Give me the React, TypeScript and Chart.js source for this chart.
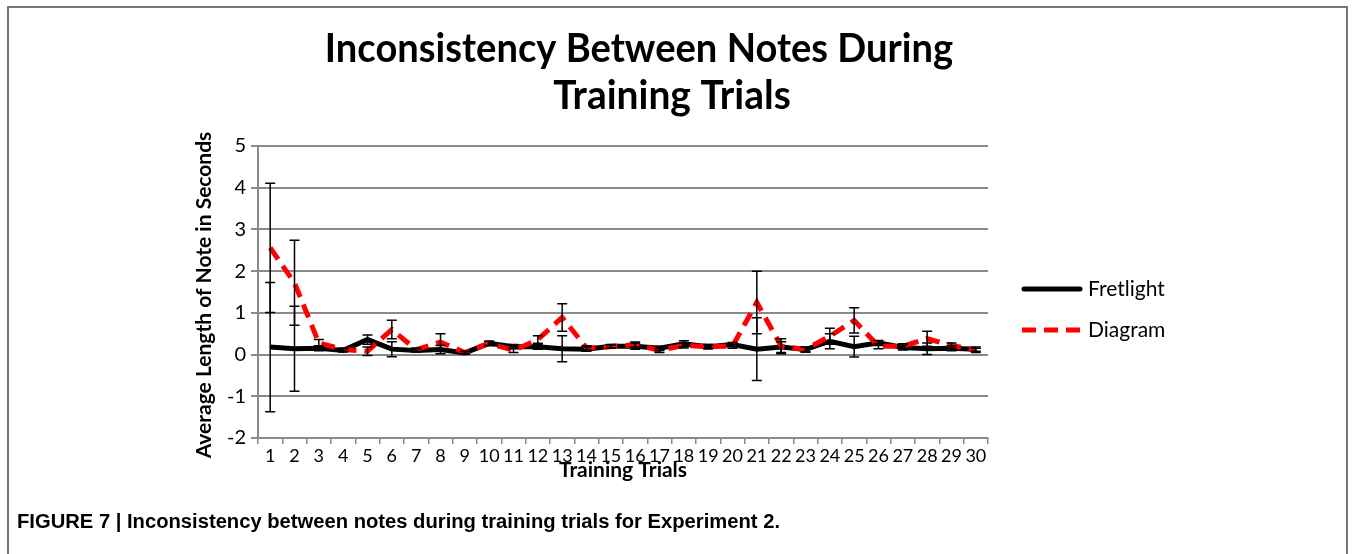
import React, { useEffect, useRef } from "react";
import { Chart, registerables } from "chart.js";

Chart.register(...registerables);

const trials: string[] = Array.from({ length: 30 }, (_, i) => String(i + 1));

const fretlightMean: number[] = [
  0.18, 0.14, 0.15, 0.1, 0.36, 0.13, 0.1, 0.12, 0.04, 0.27,
  0.19, 0.19, 0.14, 0.13, 0.2, 0.2, 0.15, 0.26, 0.19, 0.24,
  0.13, 0.18, 0.12, 0.32, 0.19, 0.28, 0.17, 0.14, 0.15, 0.13,
];
const fretlightErr: number[] = [
  1.55, 1.02, 0.06, 0.04, 0.11, 0.18, 0.04, 0.1, 0.03, 0.05,
  0.05, 0.06, 0.31, 0.05, 0.04, 0.07, 0.05, 0.07, 0.05, 0.05,
  0.75, 0.13, 0.06, 0.18, 0.25, 0.06, 0.06, 0.14, 0.06, 0.05,
];
const diagramMean: number[] = [
  2.56, 1.72, 0.28, 0.12, 0.08, 0.6, 0.12, 0.3, 0.05, 0.27,
  0.1, 0.36, 0.89, 0.16, 0.19, 0.24, 0.1, 0.22, 0.19, 0.2,
  1.25, 0.2, 0.12, 0.44, 0.82, 0.2, 0.2, 0.38, 0.22, 0.1,
];
const diagramErr: number[] = [
  1.55, 1.02, 0.08, 0.04, 0.1, 0.22, 0.04, 0.2, 0.03, 0.05,
  0.05, 0.09, 0.33, 0.05, 0.04, 0.06, 0.05, 0.06, 0.05, 0.05,
  0.75, 0.18, 0.06, 0.19, 0.3, 0.06, 0.06, 0.18, 0.06, 0.05,
];

const titleLines: string[] = ["Inconsistency Between Notes During", "Training Trials"];
const yAxisTitle = "Average Length of Note in Seconds";
const xAxisTitle = "Training Trials";
const seriesNames: string[] = ["Fretlight", "Diagram"];
const caption = "FIGURE 7 | Inconsistency between notes during training trials for Experiment 2.";

const W = 1355;
const H = 554;
const FONT = "Lato, 'Open Sans', 'DejaVu Sans', sans-serif";
const DASH = [14, 8];

function squashText(ctx: any, text: string, x: number, y: number, sx: number) {
  ctx.save();
  ctx.translate(x, y);
  ctx.scale(sx, 1);
  ctx.fillText(text, 0, 0);
  ctx.restore();
}

const decorPlugin = {
  id: "decor",
  beforeDraw(chart: any) {
    const ctx = chart.ctx;
    ctx.save();
    ctx.fillStyle = "#ffffff";
    ctx.fillRect(0, 0, W, H);
    ctx.restore();
  },
  afterDatasetsDraw(chart: any) {
    const ctx = chart.ctx;
    const xs = chart.scales.x;
    const ys = chart.scales.y;
    ctx.save();
    ctx.strokeStyle = "#000000";
    ctx.lineWidth = 1.5;
    const bars = [
      [fretlightMean, fretlightErr],
      [diagramMean, diagramErr],
    ];
    bars.forEach(([m, e]) => {
      m.forEach((v, i) => {
        const x = xs.getPixelForValue(i);
        const top = ys.getPixelForValue(v + e[i]);
        const bot = ys.getPixelForValue(v - e[i]);
        ctx.beginPath();
        ctx.moveTo(x, top);
        ctx.lineTo(x, bot);
        ctx.moveTo(x - 5, top);
        ctx.lineTo(x + 5, top);
        ctx.moveTo(x - 5, bot);
        ctx.lineTo(x + 5, bot);
        ctx.stroke();
      });
    });
    ctx.restore();
  },
  afterDraw(chart: any) {
    const ctx = chart.ctx;
    const area = chart.chartArea;
    ctx.save();
    // frame
    ctx.strokeStyle = "#777777";
    ctx.lineWidth = 2;
    ctx.beginPath();
    ctx.moveTo(8, H + 5);
    ctx.lineTo(8, 7);
    ctx.lineTo(1347, 7);
    ctx.lineTo(1347, H + 5);
    ctx.stroke();

    // title
    ctx.fillStyle = "#000000";
    ctx.textAlign = "center";
    ctx.textBaseline = "alphabetic";
    ctx.font = `bold 41px ${FONT}`;
    squashText(ctx, titleLines[0], 639, 62, 0.93);
    squashText(ctx, titleLines[1], 672, 109, 0.95);

    // y axis title
    ctx.save();
    ctx.translate(204, 295);
    ctx.rotate(-Math.PI / 2);
    ctx.font = `bold 21px ${FONT}`;
    ctx.textBaseline = "middle";
    ctx.fillText(yAxisTitle, 0, 0);
    ctx.restore();

    // x axis title
    ctx.font = `bold 21px ${FONT}`;
    ctx.textBaseline = "middle";
    ctx.fillText(xAxisTitle, (area.left + area.right) / 2, 470);

    // legend
    ctx.lineCap = "round";
    ctx.lineWidth = 5;
    ctx.strokeStyle = "#000000";
    ctx.beginPath();
    ctx.moveTo(1024, 289);
    ctx.lineTo(1080, 289);
    ctx.stroke();
    ctx.strokeStyle = "#ff0000";
    ctx.lineCap = "butt";
    ctx.setLineDash(DASH);
    ctx.beginPath();
    ctx.moveTo(1022, 330);
    ctx.lineTo(1082, 330);
    ctx.stroke();
    ctx.setLineDash([]);
    ctx.textAlign = "left";
    ctx.textBaseline = "middle";
    ctx.font = `21px ${FONT}`;
    ctx.fillStyle = "#000000";
    ctx.fillText(seriesNames[0], 1088, 289);
    ctx.fillText(seriesNames[1], 1088, 330);

    // caption
    ctx.font = `bold 20px 'Liberation Sans Narrow', 'Liberation Sans', Arial, sans-serif`;
    ctx.textBaseline = "alphabetic";
    const cw = ctx.measureText(caption).width;
    squashText(ctx, caption, 17, 528, 763 / cw);
    ctx.restore();
  },
};

export default function App() {
  const ref = useRef<HTMLCanvasElement | null>(null);
  useEffect(() => {
    if (!ref.current) return;
    const chart = new Chart(ref.current, {
      type: "line",
      data: {
        labels: trials,
        datasets: [
          {
            label: seriesNames[0],
            data: fretlightMean,
            borderColor: "#000000",
            backgroundColor: "#000000",
            borderWidth: 5,
            pointRadius: 0,
            tension: 0,
            order: 1,
          },
          {
            label: seriesNames[1],
            data: diagramMean,
            borderColor: "#ff0000",
            backgroundColor: "#ff0000",
            borderWidth: 5,
            borderDash: DASH,
            pointRadius: 0,
            tension: 0,
            order: 0,
          },
        ],
      },
      options: {
        responsive: false,
        animation: false,
        layout: { padding: { left: 208, top: 146, right: 367, bottom: 76 } },
        plugins: {
          legend: { display: false },
          title: { display: false },
          tooltip: { enabled: false },
        },
        scales: {
          x: {
            type: "category",
            offset: true,
            afterFit: (s: any) => {
              s.height = 40;
            },
            grid: {
              offset: true,
              drawOnChartArea: false,
              drawTicks: true,
              tickLength: 6,
              color: "#8a8a8a",
              lineWidth: 1.5,
            },
            border: { color: "#8a8a8a", width: 2 },
            ticks: {
              color: "#000000",
              font: { family: FONT, size: 18 },
              maxRotation: 0,
              autoSkip: false,
              padding: 1,
            },
          },
          y: {
            min: -2,
            max: 5,
            afterFit: (s: any) => {
              s.width = 50;
            },
            grid: {
              color: "#8a8a8a",
              lineWidth: 2,
              tickLength: 7,
            },
            border: { color: "#8a8a8a", width: 2 },
            ticks: {
              stepSize: 1,
              color: "#000000",
              font: { family: FONT, size: 20 },
              padding: 5,
            },
          },
        },
      },
      plugins: [decorPlugin],
    });
    return () => chart.destroy();
  }, []);
  return (
    <div style={{ position: "fixed", left: 0, top: 0, width: W, height: H, background: "#fff" }}>
      <canvas ref={ref} width={W} height={H} style={{ display: "block" }} />
    </div>
  );
}
